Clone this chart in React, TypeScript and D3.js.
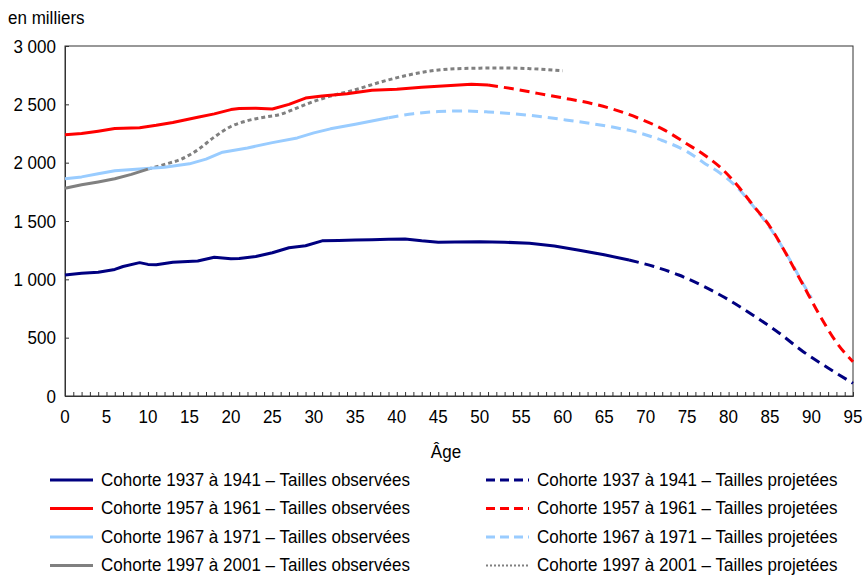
import React, { useRef, useEffect } from "react";
import * as d3 from "d3";

// ages and values (in thousands)
const navyObsAges = [0, 2, 4, 6, 7, 9, 10, 11, 13, 16, 18, 20, 21, 23, 25, 27, 29, 31, 33, 35, 37, 39, 41, 43, 45, 47, 50, 53, 56, 59, 62, 65, 68];
const navyObsValues = [1037, 1052, 1060, 1085, 1110, 1143, 1128, 1125, 1146, 1157, 1189, 1177, 1178, 1196, 1228, 1271, 1288, 1330, 1333, 1338, 1340, 1343, 1346, 1330, 1318, 1320, 1323, 1318, 1309, 1285, 1250, 1210, 1166];
const navyProjAges = [68, 71, 74, 77, 80, 83, 86, 89, 92, 95];
const navyProjValues = [1166, 1110, 1037, 940, 825, 690, 545, 380, 240, 109];

const redObsAges = [0, 2, 4, 6, 9, 11, 13, 16, 18, 20, 21, 23, 25, 27, 29, 31, 34, 37, 40, 43, 46, 49, 51];
const redObsValues = [2240, 2250, 2270, 2292, 2300, 2320, 2345, 2390, 2418, 2455, 2465, 2467, 2460, 2500, 2554, 2572, 2590, 2620, 2630, 2647, 2660, 2672, 2665];
const redProjAges = [51, 54, 57, 60, 63, 66, 69, 72, 75, 77, 79, 81, 83, 85, 87, 89, 91, 93, 95];
const redProjValues = [2665, 2633, 2594, 2555, 2515, 2460, 2385, 2290, 2160, 2070, 1960, 1810, 1630, 1451, 1210, 950, 690, 460, 294];

const blueObsAges = [0, 2, 4, 6, 9, 12, 15, 17, 19, 22, 25, 28, 30, 32, 35, 39];
const blueObsValues = [1863, 1878, 1905, 1930, 1946, 1960, 1990, 2030, 2090, 2126, 2172, 2212, 2255, 2290, 2330, 2385];
const blueProjAges = [39, 42, 45, 48, 51, 54, 57, 60, 63, 66, 69, 72, 75, 77, 79, 81, 83, 85, 87, 89, 90];
const blueProjValues = [2385, 2420, 2438, 2443, 2435, 2420, 2398, 2370, 2340, 2305, 2260, 2190, 2095, 2000, 1909, 1790, 1625, 1440, 1215, 960, 840];

const greyObsAges = [0, 2, 4, 6, 8, 10];
const greyObsValues = [1780, 1810, 1835, 1862, 1900, 1945];
const greyProjAges = [10, 12, 14, 16, 18, 20, 22, 24, 26, 28, 30, 32, 35, 38, 41, 44, 47, 50, 53, 56, 58, 60];
const greyProjValues = [1945, 1985, 2030, 2110, 2220, 2310, 2360, 2390, 2415, 2470, 2525, 2570, 2625, 2690, 2745, 2785, 2805, 2810, 2812, 2806, 2798, 2788];

const yTicks = [0, 500, 1000, 1500, 2000, 2500, 3000];
const legendLabels = [
  "Cohorte 1937 à 1941 – Tailles observées",
  "Cohorte 1957 à 1961 – Tailles observées",
  "Cohorte 1967 à 1971 – Tailles observées",
  "Cohorte 1997 à 2001 – Tailles observées",
  "Cohorte 1937 à 1941 – Tailles projetées",
  "Cohorte 1957 à 1961 – Tailles projetées",
  "Cohorte 1967 à 1971 – Tailles projetées",
  "Cohorte 1997 à 2001 – Tailles projetées",
];

const FONT = '"Liberation Sans Narrow", "Arial Narrow", "Liberation Sans", sans-serif';

// narrow-looking text: larger size squeezed horizontally
function addText(parent, x, y, str, anchor = "start") {
  return parent.append("text")
    .attr("transform", `translate(${x},${y}) scale(0.92,1)`)
    .attr("text-anchor", anchor)
    .attr("font-family", FONT)
    .attr("font-size", 18.5)
    .attr("fill", "#000")
    .text(str);
}

function App() {
  const svgRef = useRef(null);

  useEffect(() => {
    const svg = d3.select(svgRef.current);
    svg.selectAll("*").remove();

    const left = 65, right = 853, top = 46, bottom = 396;
    const x = d3.scaleLinear().domain([0, 95]).range([left, right]);
    const y = d3.scaleLinear().domain([0, 3000]).range([bottom, top]);

    const fmt = (v) => d3.format(",")(v).replace(",", " ");

    // frame
    svg.append("rect")
      .attr("x", left).attr("y", top)
      .attr("width", right - left).attr("height", bottom - top)
      .attr("fill", "none").attr("stroke", "#333").attr("stroke-width", 1);

    // y axis
    const yAxis = svg.append("g").attr("transform", `translate(${left},0)`)
      .call(d3.axisRight(y).tickValues(yTicks).tickSize(4).tickFormat(() => ""));
    yAxis.select(".domain").attr("stroke", "#333");
    yAxis.selectAll("line").attr("stroke", "#333");
    yTicks.forEach((d) => addText(svg, 56, y(d) + 6.5, fmt(d), "end"));

    // x axis
    const xAxis = svg.append("g").attr("transform", `translate(0,${bottom})`)
      .call(d3.axisTop(x).tickValues(d3.range(0, 96)).tickSize(4).tickFormat(() => ""));
    xAxis.select(".domain").attr("stroke", "#333");
    xAxis.selectAll("line").attr("stroke", "#333");
    d3.range(0, 96, 5).forEach((d) => addText(svg, x(d), bottom + 27, d, "middle"));

    addText(svg, 8, 24, "en milliers");
    addText(svg, 446, 458, "Âge", "middle");

    const series = [
      { ages: navyObsAges, values: navyObsValues, color: "#000080", dash: null, curve: d3.curveLinear },
      { ages: redObsAges, values: redObsValues, color: "#ff0000", dash: null, curve: d3.curveLinear },
      { ages: blueObsAges, values: blueObsValues, color: "#99ccff", dash: null, curve: d3.curveLinear },
      { ages: greyObsAges, values: greyObsValues, color: "#808080", dash: null, curve: d3.curveLinear },
      { ages: navyProjAges, values: navyProjValues, color: "#000080", dash: "10,6", curve: d3.curveMonotoneX },
      { ages: redProjAges, values: redProjValues, color: "#ff0000", dash: "10,6", curve: d3.curveMonotoneX },
      { ages: blueProjAges, values: blueProjValues, color: "#99ccff", dash: "10,6", curve: d3.curveMonotoneX },
      { ages: greyProjAges, values: greyProjValues, color: "#808080", dash: "4,3", curve: d3.curveMonotoneX },
    ];

    // draw order: projections first, observed on top
    const order = [4, 6, 5, 7, 0, 2, 1, 3];
    order.forEach((i) => {
      const s = series[i];
      const pts = s.ages.map((a, j) => [a, s.values[j]]);
      const line = d3.line().x((d) => x(d[0])).y((d) => y(d[1])).curve(s.curve);
      svg.append("path").datum(pts)
        .attr("d", line)
        .attr("fill", "none")
        .attr("stroke", s.color)
        .attr("stroke-width", 3)
        .attr("stroke-linejoin", "round")
        .attr("stroke-dasharray", s.dash);
    });

    // legend
    const legend = svg.append("g");
    series.forEach((s, i) => {
      const col = i < 4 ? 0 : 1;
      const row = i % 4;
      const lx = col === 0 ? 50 : 486;
      const ly = 480 + row * 28.5;
      legend.append("line")
        .attr("x1", lx).attr("x2", lx + 43)
        .attr("y1", ly).attr("y2", ly)
        .attr("stroke", s.color).attr("stroke-width", i === 7 ? 2 : 3)
        .attr("stroke-dasharray", i === 7 ? "2,2" : s.dash ? "9,5" : null);
      addText(legend, lx + 51, ly + 5.5, legendLabels[i]);
    });
  }, []);

  return (
    <svg ref={svgRef} width={864} height={577}
      style={{ position: "absolute", left: 0, top: 0, background: "#fff" }} />
  );
}

export default App;
